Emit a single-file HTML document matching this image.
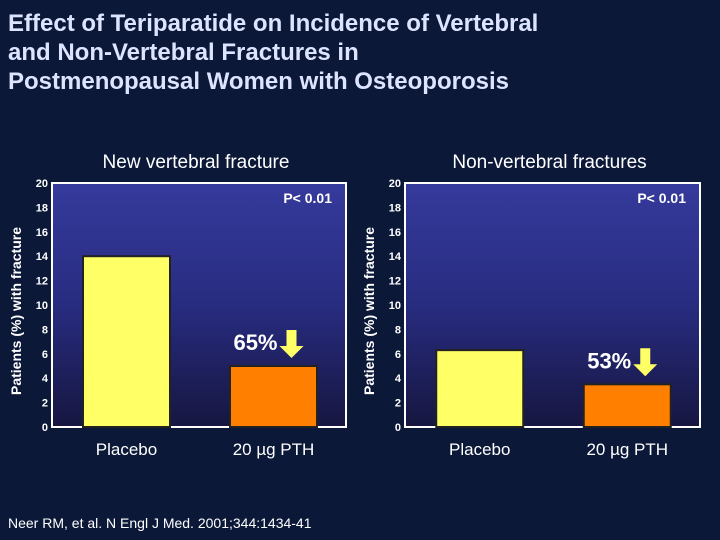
<!DOCTYPE html>
<html><head><meta charset="utf-8"><style>
body{margin:0;width:720px;height:540px;overflow:hidden;background:#0b1838;font-family:"Liberation Sans",sans-serif;color:#fff}
#t{position:absolute;left:8px;top:9px;font-size:24px;font-weight:bold;line-height:29px;color:#dde4ff}
#c{position:absolute;left:8px;top:515px;font-size:14px}
</style></head><body>
<div id="t">Effect of Teriparatide on Incidence of Vertebral<br>and Non-Vertebral Fractures in<br>Postmenopausal Women with Osteoporosis</div>
<svg width="720" height="540" style="position:absolute;left:0;top:0" id="s">
<defs><linearGradient id="g" x1="0" y1="0" x2="0" y2="1"><stop offset="0" stop-color="#353a9c"/><stop offset="0.5" stop-color="#282c80"/><stop offset="1" stop-color="#161640"/></linearGradient></defs>
</svg>
<div id="c">Neer RM, et al. N Engl J Med. 2001;344:1434-41</div>
<script>
const categories=["Placebo","20 \u00b5g PTH"];
const vertebralValues=[14,5];
const nonVertebralValues=[6.3,3.5];
const ticks=[0,2,4,6,8,10,12,14,16,18,20];
const reductions=["65%","53%"];
const titles=["New vertebral fracture","Non-vertebral fractures"];
const s=document.getElementById('s');const NS='http://www.w3.org/2000/svg';
function el(t,a,txt){const e=document.createElementNS(NS,t);for(const k in a)e.setAttribute(k,a[k]);if(txt!==undefined)e.textContent=txt;s.appendChild(e);return e;}
const y0=427,y1=183;function yS(v){return y0-(v/20)*(y0-y1);}
function panel(x0,x1,vals,red,title,idx){
 const w=x1-x0;
 let e=el('rect',{x:x0,y:y1,width:w,height:y0-y1,fill:'url(#g)',stroke:'#fff','stroke-width':2});
 
 e=el('text',{x:(x0+x1)/2-3,y:168,'text-anchor':'middle','font-size':19,fill:'#fff'},title);
 
 ticks.forEach(t=>{e=el('text',{x:x0-4,y:yS(t)+4,'text-anchor':'end','font-size':11,'font-weight':'bold',fill:'#fff'},t);
  });
 e=el('text',{transform:`translate(${x0-31},${(y0+y1)/2+6}) rotate(-90)`,'text-anchor':'middle','font-size':14,'font-weight':'bold',fill:'#fff'},'Patients (%) with fracture');
 
 const cw=w/2;
 vals.forEach((v,i)=>{const cx=x0+cw*i+cw/2+1;const bw=87;
  e=el('rect',{x:cx-bw/2,y:yS(v),width:bw,height:y0-yS(v),fill:i?'#ff7f00':'#ffff66',stroke:'#222','stroke-width':2});
  
  e=el('text',{x:cx,y:455,'text-anchor':'middle','font-size':17,fill:'#fff'},categories[i]);
  
 });
 const pv=vals[1];const ax=x0+cw*1.5+1+18;const ay=yS(pv)-8;
 e=el('polygon',{points:`${ax-5},${ay-28} ${ax+5},${ay-28} ${ax+5},${ay-12} ${ax+12},${ay-12} ${ax},${ay} ${ax-12},${ay-12} ${ax-5},${ay-12}`,fill:'#ffff66'});
 
 e=el('text',{x:ax-14,y:ay-8,'text-anchor':'end','font-size':22,'font-weight':'bold',fill:'#fff'},red);
 
 e=el('text',{x:x1-14,y:203,'text-anchor':'end','font-size':14,'font-weight':'bold',fill:'#fff'},'P< 0.01');
 
}
panel(52,346,vertebralValues,reductions[0],titles[0],'vertebral');
panel(405,700,nonVertebralValues,reductions[1],titles[1],'nonvertebral');
</script>
</body></html>
